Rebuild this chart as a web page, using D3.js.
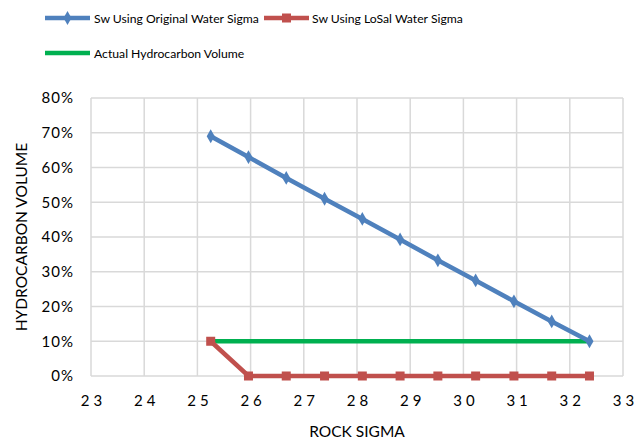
<!DOCTYPE html>
<html lang="en">
<head>
    <meta charset="UTF-8">
    <title>Hydrocarbon volume vs rock sigma</title>
    <script src="https://d3js.org/d3.v7.min.js"></script>
    <style>
        body { margin: 0; background: #fff; }
        text { font-family: Lato, "Liberation Sans", sans-serif; fill: #000; }
    </style>
</head>
<body>
    <svg width="644" height="444"></svg>
    <script>
        // values
        const rockSigma = [25.25, 25.96, 26.67, 27.39, 28.1, 28.81, 29.52, 30.23, 30.95, 31.66, 32.37];
        const swOriginal = [0.69, 0.63, 0.57, 0.51, 0.452, 0.393, 0.333, 0.275, 0.215, 0.157, 0.10];
        const swLoSal = [0.10, 0, 0, 0, 0, 0, 0, 0, 0, 0, 0];
        const actualHC = [0.10, 0.10, 0.10, 0.10, 0.10, 0.10, 0.10, 0.10, 0.10, 0.10, 0.10];
        const xTicks = [23, 24, 25, 26, 27, 28, 29, 30, 31, 32, 33];
        const yTicks = [0, 0.1, 0.2, 0.3, 0.4, 0.5, 0.6, 0.7, 0.8];

        const blue = "#4f81bd", red = "#c0504d", green = "#00b050";

        const svg = d3.select("svg");

        const x = d3.scaleLinear().domain([23, 33]).range([91, 623]);
        const y = d3.scaleLinear().domain([0, 0.8]).range([376, 98]);

        // gridlines
        svg.append("g")
            .selectAll("line.vgrid")
            .data(xTicks)
            .enter().append("line")
            .attr("x1", d => x(d)).attr("x2", d => x(d))
            .attr("y1", y(0.8)).attr("y2", y(0))
            .attr("stroke", "#d9d9d9").attr("stroke-width", 1.5);

        svg.append("g")
            .selectAll("line.hgrid")
            .data(yTicks)
            .enter().append("line")
            .attr("x1", x(23)).attr("x2", x(33))
            .attr("y1", d => y(d)).attr("y2", d => y(d))
            .attr("stroke", "#d9d9d9").attr("stroke-width", 1.5);

        // axes (labels only)
        const xAxis = svg.append("g")
            .attr("transform", `translate(0,${y(0)})`)
            .call(d3.axisBottom(x).tickValues(xTicks).tickSize(0).tickPadding(19).tickFormat(d3.format("d")));
        xAxis.select(".domain").remove();
        xAxis.selectAll("text")
            .style("font-family", "Lato, sans-serif")
            .style("font-size", "15px")
            .style("letter-spacing", "4px")
            .attr("fill", "#000")
            .attr("dx", "2px");

        const yAxis = svg.append("g")
            .attr("transform", `translate(${x(23)},0)`)
            .call(d3.axisLeft(y).tickValues(yTicks).tickSize(0).tickPadding(17).tickFormat(d3.format(".0%")));
        yAxis.select(".domain").remove();
        yAxis.selectAll("text")
            .style("font-family", "Lato, sans-serif")
            .style("font-size", "15px")
            .style("letter-spacing", "1px")
            .attr("fill", "#000");

        // axis titles
        svg.append("text")
            .attr("x", 357).attr("y", 437)
            .attr("text-anchor", "middle")
            .style("font-size", "15.5px")
            .text("ROCK SIGMA");

        svg.append("text")
            .attr("transform", `translate(27,${(y(0) + y(0.8)) / 2}) rotate(-90)`)
            .attr("text-anchor", "middle")
            .style("font-size", "15.5px")
            .text("HYDROCARBON VOLUME");

        // series
        const line = vals => d3.line()
            .x((d, i) => x(rockSigma[i]))
            .y(d => y(d))(vals);

        svg.append("path")
            .attr("d", line(actualHC))
            .attr("fill", "none").attr("stroke", green).attr("stroke-width", 4.5);

        svg.append("path")
            .attr("d", line(swOriginal))
            .attr("fill", "none").attr("stroke", blue).attr("stroke-width", 4.5);

        svg.append("path")
            .attr("d", line(swLoSal))
            .attr("fill", "none").attr("stroke", red).attr("stroke-width", 4.5);

        const diamond = d3.symbol().type(d3.symbolDiamond).size(55);

        svg.selectAll(".blue-pt")
            .data(swOriginal)
            .enter().append("path")
            .attr("class", "blue-pt")
            .attr("d", diamond)
            .attr("transform", (d, i) => `translate(${x(rockSigma[i])},${y(d)})`)
            .attr("fill", blue);

        svg.selectAll(".red-pt")
            .data(swLoSal)
            .enter().append("rect")
            .attr("class", "red-pt")
            .attr("x", (d, i) => x(rockSigma[i]) - 4.5)
            .attr("y", d => y(d) - 4.5)
            .attr("width", 9).attr("height", 9)
            .attr("fill", red);

        // legend
        const legend = svg.append("g");

        legend.append("line")
            .attr("x1", 45).attr("x2", 90).attr("y1", 18).attr("y2", 18)
            .attr("stroke", blue).attr("stroke-width", 4.5);
        legend.append("path")
            .attr("d", diamond)
            .attr("transform", "translate(67.5,18)")
            .attr("fill", blue);
        legend.append("text")
            .attr("x", 94).attr("y", 22.5)
            .style("font-size", "12.2px")
            .text("Sw Using Original Water Sigma");

        legend.append("line")
            .attr("x1", 264).attr("x2", 309).attr("y1", 18).attr("y2", 18)
            .attr("stroke", red).attr("stroke-width", 4.5);
        legend.append("rect")
            .attr("x", 282).attr("y", 13.5).attr("width", 9).attr("height", 9)
            .attr("fill", red);
        legend.append("text")
            .attr("x", 312).attr("y", 22.5)
            .style("font-size", "12.2px")
            .text("Sw Using LoSal Water Sigma");

        legend.append("line")
            .attr("x1", 45).attr("x2", 90).attr("y1", 53).attr("y2", 53)
            .attr("stroke", green).attr("stroke-width", 4.5);
        legend.append("text")
            .attr("x", 94).attr("y", 57.5)
            .style("font-size", "12.2px")
            .text("Actual Hydrocarbon Volume");
    </script>
</body>
</html>
